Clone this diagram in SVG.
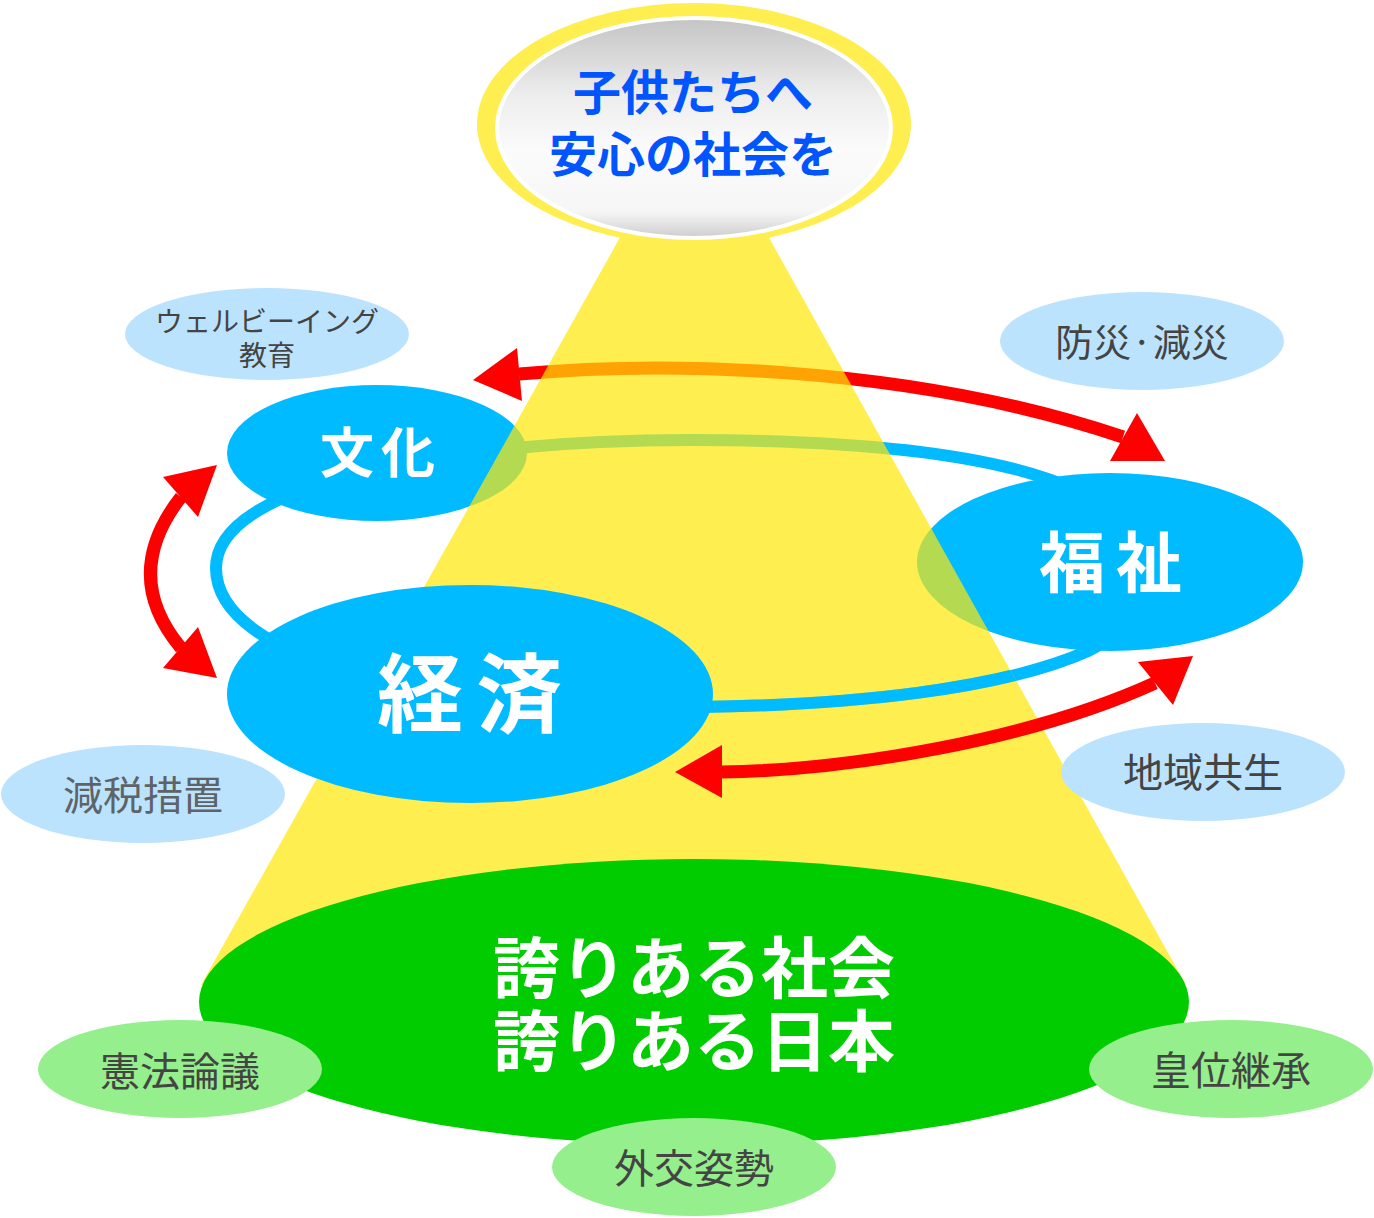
<svg xmlns="http://www.w3.org/2000/svg" width="1374" height="1218" viewBox="0 0 1374 1218">
<defs>
<linearGradient id="topGrad" x1="0" y1="0" x2="0" y2="1">
<stop offset="0" stop-color="#C4C4C4"/>
<stop offset="0.35" stop-color="#EDEDED"/>
<stop offset="0.6" stop-color="#FBFBFB"/>
<stop offset="0.88" stop-color="#F6F6F6"/>
<stop offset="1" stop-color="#CDCDCD"/>
</linearGradient>
<clipPath id="coneClip"><polygon points="641,200 748,200 1186,985 201,985"/></clipPath>
</defs>
<style>
.big{font-family:"Noto Sans CJK JP","Noto Sans CJK SC",sans-serif;font-weight:700;fill:#FFFFFF;text-anchor:middle}
.top{font-family:"Noto Sans CJK JP","Noto Sans CJK SC",sans-serif;font-weight:700;fill:#0055FF;text-anchor:middle;font-size:48px}
.lbl{font-family:"Noto Sans CJK JP","Noto Sans CJK SC",sans-serif;font-weight:400;fill:#444444;text-anchor:middle}
.blue{fill:#00BBFF}
.lb{fill:#BBE3FD}
.lg{fill:#94EF8C}
.ring{fill:none;stroke:#00BBFF;stroke-width:12}
.shaft{fill:none;stroke:#FF0000;stroke-width:13}
.head{fill:#FF0000}
</style>

<!-- back ring -->
<g id="connectors-back">
<path class="ring" d="M 216,568 C 216,482 450,440 690,440 C 880,440 1010,458 1080,492 C 1150,528 1150,622 1088,651 C 1000,690 850,705 700,707 C 430,712 216,660 216,568 Z"/>
</g>

<g id="node-bunka">
<ellipse class="blue" cx="377" cy="453" rx="150" ry="68"/>
<text class="big" font-size="54" x="347 408" y="473">文化</text>
</g>

<g id="node-fukushi">
<ellipse class="blue" cx="1110" cy="562" rx="193" ry="89"/>
<text class="big" font-size="66" x="1072 1149" y="587">福祉</text>
</g>

<g id="connectors">
<!-- top arrow 文化 <-> 福祉 -->
<path class="shaft" d="M 519,374 C 650,362 900,362 1123,437"/>
<polygon class="head" points="473,380 517,348 522,401"/>
<polygon class="head" points="1165,461 1137,413 1110,461"/>
<!-- left arrow 文化 <-> 経済 -->
<path class="shaft" d="M 181,497 Q 120,575 181,648"/>
<polygon class="head" points="217,465 163,477 198,517"/>
<polygon class="head" points="217,678 163,668 198,627"/>
</g>

<!-- light cone -->
<polygon id="cone" points="641,200 748,200 1186,985 201,985" fill="#FFE705" fill-opacity="0.7"/>

<g id="connectors-front">
<path class="ring" clip-path="url(#coneClip)" d="M 1088,651 C 1000,690 850,705 700,707"/>
</g>

<g id="node-keizai">
<ellipse class="blue" cx="470" cy="694" rx="243" ry="109"/>
<text class="big" font-size="86" x="420 519" y="726">経済</text>
</g>

<g id="connectors-bottom">
<path class="shaft" d="M 722,772 C 850,770 1030,740 1155,683"/>
<polygon class="head" points="675,772 722,745 722,798"/>
<polygon class="head" points="1193,656 1138,662 1173,705"/>
</g>

<g id="node-top">
<ellipse cx="694" cy="124" rx="217" ry="121" fill="#FFEE50"/>
<ellipse cx="694" cy="128" rx="197" ry="110" fill="url(#topGrad)" stroke="#FFFFFF" stroke-width="4"/>
<text class="top"><tspan x="693" y="110">子供たちへ</tspan><tspan x="693" y="172">安心の社会を</tspan></text>
</g>

<g id="node-hokori">
<ellipse cx="694" cy="1002" rx="495" ry="143" fill="#00CC00"/>
<text class="big" font-size="67"><tspan x="694" y="993">誇りある社会</tspan><tspan x="694" y="1066">誇りある日本</tspan></text>
</g>

<g id="label-wellbeing">
<ellipse class="lb" cx="267" cy="334" rx="142" ry="46"/>
<text class="lbl" font-size="28"><tspan x="267" y="332">ウェルビーイング</tspan><tspan x="267" y="366">教育</tspan></text>
</g>

<g id="label-bousai">
<ellipse class="lb" cx="1142" cy="341" rx="142" ry="49"/>
<text class="lbl" font-size="38" x="1142" y="356">防災·減災</text>
</g>

<g id="label-genzei">
<ellipse class="lb" cx="143" cy="794" rx="142" ry="49"/>
<text class="lbl" font-size="40" x="143" y="810" style="fill:#5E6368">減税措置</text>
</g>

<g id="label-chiiki">
<ellipse class="lb" cx="1203" cy="772" rx="142" ry="49"/>
<text class="lbl" font-size="40" x="1203" y="787">地域共生</text>
</g>

<g id="label-kenpou">
<ellipse class="lg" cx="180" cy="1069" rx="142" ry="49"/>
<text class="lbl" font-size="40" x="180" y="1086">憲法論議</text>
</g>

<g id="label-gaikou">
<ellipse class="lg" cx="694" cy="1167" rx="142" ry="49"/>
<text class="lbl" font-size="40" x="694" y="1183">外交姿勢</text>
</g>

<g id="label-koui">
<ellipse class="lg" cx="1231" cy="1069" rx="142" ry="49"/>
<text class="lbl" font-size="40" x="1231" y="1085">皇位継承</text>
</g>
</svg>
